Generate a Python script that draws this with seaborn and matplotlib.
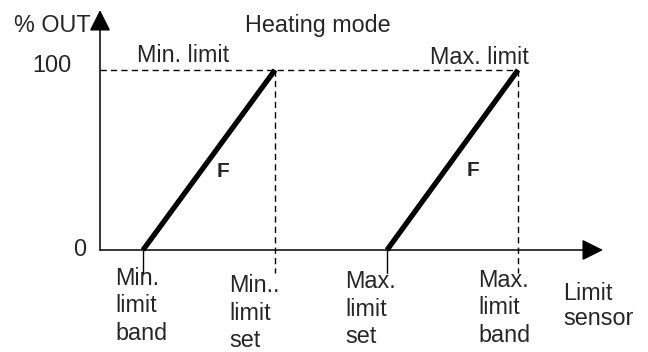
import numpy as np
import pandas as pd
import seaborn as sns
import matplotlib.pyplot as plt

# 数据: sensor positions (x) and % OUT (y)
limit_names = ['Min. limit', 'Max. limit']
band_start = [43, 287]      # Min. limit band, Max. limit set  -> 0 %
band_end = [175, 418]       # Min.. limit set, Max. limit band -> 100 %
out_levels = [0, 100]
tick_labels = ['Min.\nlimit\nband', 'Min..\nlimit\nset', 'Max.\nlimit\nset', 'Max.\nlimit\nband']
tick_pos = [band_start[0], band_end[0], band_start[1], band_end[1]]

rows = []
for name, x0, x1 in zip(limit_names, band_start, band_end):
    rows.append({'limit': name, 'sensor': x0, 'out': out_levels[0]})
    rows.append({'limit': name, 'sensor': x1, 'out': out_levels[1]})
df = pd.DataFrame(rows)

sns.set_theme(style='white')
plt.rcParams['font.family'] = ['Liberation Sans', 'DejaVu Sans']

fig = plt.figure(figsize=(6.48, 3.52), dpi=100)
ax = fig.add_axes([0, 0, 1, 1])
ax.set_xlim(-100, 548)
ax.set_ylim(-(352 - 250) / 1.8, 250 / 1.8)
ax.axis('off')


def py(p):
    # pixel row -> % OUT units
    return (250 - p) / 1.8


def px(p):
    return p - 100


# ramps
sns.lineplot(data=df, x='sensor', y='out', units='limit', estimator=None,
             color='black', lw=3.8, ax=ax, legend=False,
             solid_capstyle='butt')

# dashed guides
dash = (0, (4.5, 3))
ax.plot([0, band_end[1]], [100, 100], color='black', lw=1, ls=dash)
for x in band_end:
    ax.plot([x, x], [100, py(273)], color='black', lw=1, ls=dash)
for x in band_start:
    ax.plot([x, x], [0, py(273)], color='black', lw=1)

# axes with arrows
arrow = dict(arrowstyle='-|>,head_length=1.0,head_width=0.5', color='black',
             lw=1.1, shrinkA=0, shrinkB=0, mutation_scale=13)
ax.annotate('', xy=(px(603), 0), xytext=(0, 0), arrowprops=arrow)
ax.annotate('', xy=(0, py(10)), xytext=(0, 0), arrowprops=arrow)

fs = 16.8
ax.text(px(14), py(32), '% OUT', fontsize=fs, va='baseline', ha='left')
ax.text(px(245), py(32), 'Heating mode', fontsize=fs, va='baseline', ha='left')
ax.text(px(71), py(72), '100', fontsize=fs, va='baseline', ha='right')
ax.text(px(86), py(256), '0', fontsize=fs, va='baseline', ha='right')
ax.text(px(137), py(62), 'Min. limit', fontsize=fs, va='baseline', ha='left')
ax.text(px(430), py(64), 'Max. limit', fontsize=fs, va='baseline', ha='left')
ax.text(px(217), py(177), 'F', fontsize=15, fontweight='bold', va='baseline')
ax.text(px(467), py(176), 'F', fontsize=15, fontweight='bold', va='baseline')

label_left = [115, 229, 345, 478]
label_base = [285, 292, 288, 287]
for lab, lx, lb in zip(tick_labels, label_left, label_base):
    for i, line in enumerate(lab.split('\n')):
        ax.text(px(lx), py(lb + 27.5 * i), line, fontsize=fs,
                va='baseline', ha='left')
for i, line in enumerate(['Limit', 'sensor']):
    ax.text(px(563), py(300 + 25 * i), line, fontsize=fs, va='baseline',
            ha='left')

plt.savefig('out.png', dpi=100)
